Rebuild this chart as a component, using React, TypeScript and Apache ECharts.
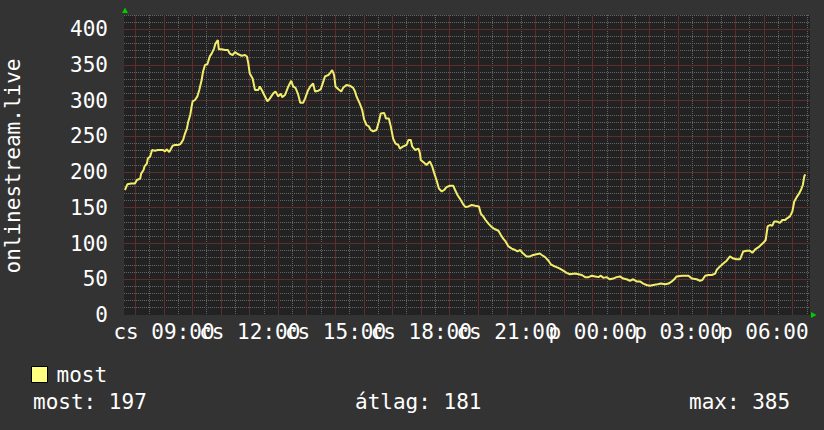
import React, { useEffect, useRef } from 'react';
import * as echarts from 'echarts';

// ---- data (time of day, viewers) ----
const times = [
  '07:38', '07:43', '07:51', '07:59', '08:03', '08:10', '08:12', '08:17', '08:19', '08:24',
  '08:26', '08:31', '08:35', '08:41', '08:47', '08:58', '09:02', '09:06', '09:11', '09:18',
  '09:23', '09:29', '09:34', '09:37', '09:40', '09:44', '09:48', '09:51', '09:55', '09:58',
  '10:00', '10:05', '10:10', '10:14', '10:19', '10:22', '10:26', '10:31', '10:36', '10:40',
  '10:45', '10:48', '10:53', '10:55', '11:01', '11:08', '11:14', '11:18', '11:24', '11:29',
  '11:36', '11:43', '11:50', '11:54', '11:57', '12:00', '12:06', '12:11', '12:18', '12:21',
  '12:26', '12:32', '12:37', '12:42', '12:49', '12:54', '13:00', '13:05', '13:08', '13:14',
  '13:21', '13:27', '13:31', '13:36', '13:41', '13:46', '13:52', '13:56', '14:02', '14:07',
  '14:13', '14:17', '14:24', '14:29', '14:33', '14:38', '14:45', '14:49', '14:53', '14:57',
  '15:00', '15:06', '15:12', '15:16', '15:23', '15:30', '15:37', '15:41', '15:44', '15:51',
  '15:56', '16:00', '16:05', '16:10', '16:14', '16:19', '16:26', '16:31', '16:35', '16:42',
  '16:46', '16:52', '16:56', '17:01', '17:06', '17:12', '17:15', '17:22', '17:29', '17:33',
  '17:38', '17:41', '17:47', '17:54', '17:57', '17:59', '18:06', '18:11', '18:18', '18:23',
  '18:27', '18:32', '18:37', '18:43', '18:48', '18:53', '19:00', '19:07', '19:11', '19:16',
  '19:21', '19:28', '19:33', '19:39', '19:46', '19:53', '20:01', '20:05', '20:10', '20:15',
  '20:21', '20:28', '20:35', '20:42', '20:47', '20:52', '20:57', '21:03', '21:10', '21:17',
  '21:22', '21:27', '21:34', '21:41', '21:48', '21:55', '22:02', '22:09', '22:13', '22:20',
  '22:27', '22:32', '22:37', '22:44', '22:51', '22:58', '23:05', '23:12', '23:23', '23:30',
  '23:37', '23:44', '23:51', '23:58', '00:05', '00:12', '00:17', '00:22', '00:29', '00:36',
  '00:43', '00:50', '00:57', '01:04', '01:11', '01:18', '01:25', '01:32', '01:39', '01:46',
  '01:53', '02:00', '02:07', '02:16', '02:23', '02:32', '02:39', '02:46', '02:51', '02:56',
  '03:07', '03:21', '03:28', '03:38', '03:45', '03:50', '03:56', '04:03', '04:10', '04:17',
  '04:20', '04:27', '04:34', '04:41', '04:48', '04:55', '05:02', '05:09', '05:16', '05:23',
  '05:30', '05:35', '05:41', '05:48', '05:53', '05:58', '06:03', '06:07', '06:12', '06:17',
  '06:21', '06:26', '06:33', '06:38', '06:44', '06:47', '06:54', '06:59', '07:03', '07:08',
  '07:13', '07:17', '07:21', '07:24', '07:26',
];
const values = [
  175, 183, 184, 184, 189, 191, 198, 203, 208, 212,
  219, 222, 231, 230, 231, 231, 229, 232, 228, 237,
  238, 238, 239, 242, 245, 254, 261, 271, 280, 292,
  299, 301, 306, 315, 329, 341, 350, 351, 362, 366,
  373, 380, 385, 372, 372, 371, 371, 366, 364, 368,
  365, 363, 364, 362, 352, 338, 331, 315, 315, 320,
  314, 306, 299, 303, 310, 313, 306, 310, 305, 308,
  320, 328, 320, 318, 310, 297, 297, 303, 314, 320,
  324, 313, 314, 316, 324, 334, 336, 339, 343, 336,
  320, 316, 313, 318, 322, 321, 318, 313, 306, 296,
  287, 274, 266, 264, 259, 257, 259, 271, 282, 283,
  275, 275, 264, 247, 240, 238, 233, 236, 238, 245,
  245, 236, 231, 233, 227, 217, 213, 210, 215, 208,
  199, 189, 177, 173, 175, 179, 181, 181, 175, 168,
  163, 155, 151, 152, 154, 153, 152, 142, 138, 133,
  128, 123, 120, 118, 112, 107, 103, 96, 93, 91,
  89, 91, 86, 82, 82, 84, 85, 86, 84, 81,
  76, 71, 69, 67, 65, 62, 59, 57, 58, 57,
  56, 53, 53, 55, 54, 53, 55, 52, 53, 50,
  51, 53, 54, 51, 50, 48, 50, 47, 47, 44,
  42, 41, 42, 43, 44, 43, 44, 47, 50, 54,
  55, 55, 51, 50, 48, 49, 55, 56, 56, 58,
  63, 68, 72, 76, 82, 79, 78, 78, 89, 90,
  90, 87, 92, 95, 98, 101, 105, 124, 126, 125,
  131, 131, 129, 133, 133, 135, 138, 145, 159, 165,
  170, 175, 182, 194, 197,
];

const xLabelHours = [9, 12, 15, 18, 21, 24, 27, 30];
const xLabelTexts = ['cs 09:00', 'cs 12:00', 'cs 15:00', 'cs 18:00', 'cs 21:00', 'p 00:00', 'p 03:00', 'p 06:00'];
const yTicks = [0, 50, 100, 150, 200, 250, 300, 350, 400];
const yTitle = 'onlinestream.live';
const seriesName = 'most';
const statLabels = ['most', 'átlag', 'max'];
const statValues = [197, 181, 385];

const START_H = 7.6;
const END_H = 31.6;
const Y_MAX = 420;
const FONT = "'DejaVu Sans Mono', monospace";
const MAJOR = '#5e2e2e';
const MINOR = '#646464';

function toHours(t: string): number {
  const [h, m] = t.split(':').map(Number);
  let v = h + m / 60;
  if (v < START_H) v += 24;
  return v;
}

export default function App() {
  const ref = useRef<HTMLDivElement>(null);
  useEffect(() => {
    if (!ref.current) return;
    const chart = echarts.init(ref.current, undefined, { renderer: 'svg' });
    const data = times.map((t, i) => [toHours(t), values[i]]);

    // grid line positions: [x, y, kind (0 vertical / 1 horizontal), major]
    const gridItems: number[][] = [];
    for (let h = 8; h <= 31.5; h += 0.5) if (!Number.isInteger(h)) gridItems.push([h, 0, 0, 0]);
    for (let v = 10; v <= Y_MAX; v += 10) if (v % 50 !== 0) gridItems.push([START_H, v, 1, 0]);
    for (let h = 8; h <= 31; h += 1) gridItems.push([h, 0, 0, 1]);
    for (let v = 50; v <= 400; v += 50) gridItems.push([START_H, v, 1, 1]);

    const xLabelItems = xLabelHours.map((h, i) => [h, 0, i]);

    chart.setOption({
      animation: false,
      backgroundColor: '#333333',
      grid: { left: 124, top: 15, width: 686, height: 300, show: true, backgroundColor: '#222222', borderWidth: 0 },
      xAxis: {
        type: 'value', min: START_H, max: END_H,
        axisLine: { show: false }, axisTick: { show: false }, splitLine: { show: false },
        axisLabel: { show: false },
      },
      yAxis: {
        type: 'value', min: 0, max: Y_MAX,
        axisLine: { show: false }, axisTick: { show: false }, splitLine: { show: false },
        axisLabel: { show: true, customValues: yTicks, showMinLabel: true, color: '#ffffff', fontFamily: FONT, fontSize: 21, margin: 16 },
      },
      legend: {
        show: true, left: 31, top: 364, padding: 0, itemWidth: 16, itemHeight: 16, icon: 'rect',
        data: [seriesName],
        itemStyle: { color: '#ffff80', borderColor: '#000000', borderWidth: 1 },
        textStyle: { color: '#ffffff', fontFamily: FONT, fontSize: 21, padding: [0, 0, 0, 4] },
      },
      series: [
        {
          type: 'custom', name: 'grid', data: gridItems, z: 1, silent: true, clip: false,
          encode: { x: 0, y: 1 },
          renderItem: (params: any, api: any) => {
            const kind = api.value(2);
            const major = api.value(3) === 1;
            const cs = params.coordSys;
            const p = api.coord([api.value(0), api.value(1)]);
            let shape;
            if (kind === 0) {
              const x = Math.floor(p[0]) + 0.5;
              shape = { x1: x, y1: cs.y, x2: x, y2: cs.y + cs.height };
            } else {
              const y = Math.floor(p[1]) + 0.5;
              shape = { x1: cs.x, y1: y, x2: cs.x + cs.width, y2: y };
            }
            return {
              type: 'line', shape, z2: major ? 2 : 1,
              style: major
                ? { stroke: MAJOR, lineWidth: 1, fill: null }
                : { stroke: MINOR, lineWidth: 1, lineDash: [1, 1], fill: null },
            };
          },
        },
        {
          type: 'custom', name: 'xlabels', data: xLabelItems, z: 6, silent: true, clip: false,
          encode: { x: 0, y: 1 },
          renderItem: (params: any, api: any) => {
            const cs = params.coordSys;
            const p = api.coord([api.value(0), 0]);
            return {
              type: 'text', x: p[0], y: cs.y + cs.height + 6,
              style: {
                text: xLabelTexts[api.value(2)], fill: '#ffffff', fontFamily: FONT, fontSize: 21,
                align: 'center', verticalAlign: 'top', textAlign: 'center', textVerticalAlign: 'top',
              },
            };
          },
        },
        {
          type: 'line', name: seriesName, data,
          showSymbol: false, symbol: 'none', z: 5,
          lineStyle: { color: '#f2ee6c', width: 2 },
          itemStyle: { color: '#ffff80' },
        },
      ],
      graphic: [
        {
          type: 'text', x: 13, y: 166, rotation: Math.PI / 2,
          style: { text: yTitle, fill: '#ffffff', fontFamily: FONT, fontSize: 21, align: 'center', verticalAlign: 'middle' },
        },
        { type: 'polygon', shape: { points: [[122, 13], [128, 13], [125, 7.5]] }, style: { fill: '#00cc00' } },
        { type: 'polygon', shape: { points: [[811, 312], [811, 318], [816.5, 315]] }, style: { fill: '#00cc00' } },
        {
          type: 'text', x: 33, y: 402,
          style: { text: `${statLabels[0]}: ${statValues[0]}`, fill: '#ffffff', fontFamily: FONT, fontSize: 21, align: 'left', verticalAlign: 'middle' },
        },
        {
          type: 'text', x: 355, y: 402,
          style: { text: `${statLabels[1]}: ${statValues[1]}`, fill: '#ffffff', fontFamily: FONT, fontSize: 21, align: 'left', verticalAlign: 'middle' },
        },
        {
          type: 'text', x: 689, y: 402,
          style: { text: `${statLabels[2]}: ${statValues[2]}`, fill: '#ffffff', fontFamily: FONT, fontSize: 21, align: 'left', verticalAlign: 'middle' },
        },
      ],
    });
    return () => chart.dispose();
  }, []);
  return <div ref={ref} style={{ position: 'fixed', left: 0, top: 0, width: 824, height: 430 }} />;
}
